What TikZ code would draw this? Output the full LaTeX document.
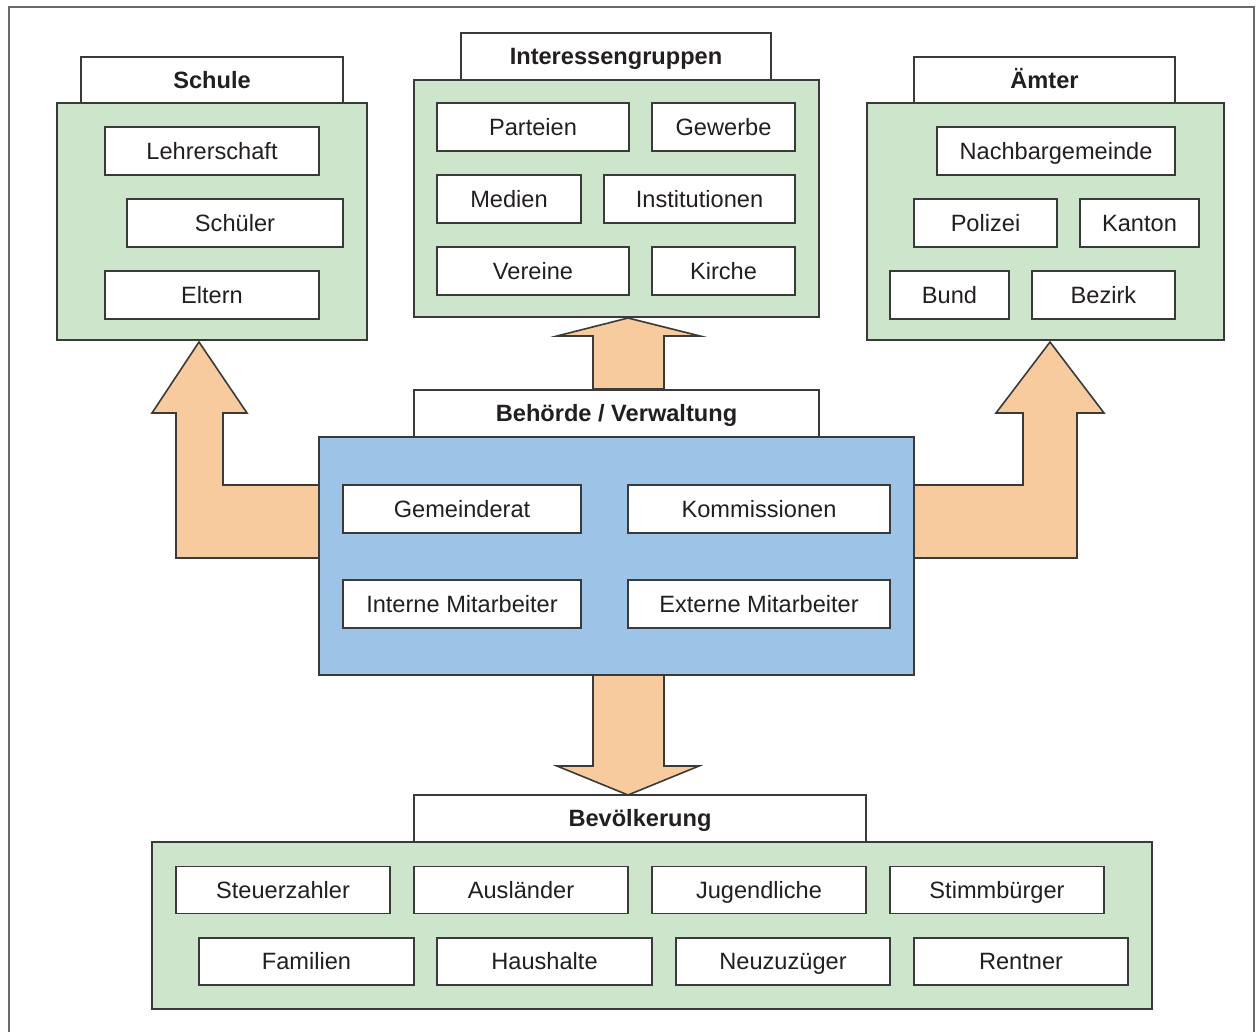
\documentclass[tikz,border=0pt]{standalone}
\usepackage{fontspec}
\setmainfont{Liberation Sans}
\usetikzlibrary{positioning}
\definecolor{ink}{HTML}{231F20}
\definecolor{edge}{HTML}{3A3A3A}
\definecolor{frameGray}{HTML}{6A6A6A}
\definecolor{pGreen}{HTML}{CDE5CB}
\definecolor{pBlue}{HTML}{9DC3E6}
\definecolor{pPeach}{HTML}{F7CB9E}
\tikzset{
  item/.style={draw=edge, fill=white, line width=0.8pt, minimum height=24pt, inner sep=0pt, text height=9.6pt, text depth=1.4pt, font=\fontsize{11.8}{14}\selectfont, text=ink},
  head/.style={item, minimum height=23.5pt, font=\fontsize{11.8}{14}\selectfont\bfseries},
  panel/.style={draw=edge, fill=pGreen, line width=0.8pt, inner sep=0pt},
  bigarrow/.style={draw=edge, fill=pPeach, line width=0.8pt, line join=miter},
  boxw/.style={minimum width=#1*0.5pt},
  boxh/.style={minimum height=#1*0.5pt},
}

\begin{document}
\begin{tikzpicture}[x=0.5pt, y=-0.5pt]
\useasboundingbox (0,0) rectangle (1256,1032);
\fill[white] (0,0) rectangle (1256,1032);
\draw[frameGray, line width=0.8pt] (9,1032) -- (9,7) -- (1254,7) -- (1254,1032);
% arrows out of the Behoerde
\draw[bigarrow] (593,389) -- (593,336) -- (557,336) -- (628,318) -- (700,336) -- (664,336) -- (664,389) -- cycle;
\draw[bigarrow] (593,675) -- (593,766) -- (557,766) -- (628,795) -- (699,766) -- (664,766) -- (664,675) -- cycle;
\draw[bigarrow] (319,558) -- (176,558) -- (176,413) -- (152,413) -- (199,342) -- (247,413) -- (223,413) -- (223,485) -- (319,485) -- cycle;
\draw[bigarrow] (914,558) -- (1077,558) -- (1077,413) -- (1104,413) -- (1050,342) -- (996,413) -- (1023,413) -- (1023,485) -- (914,485) -- cycle;
% Schule
\node[head, boxw=262, boxh=46] (schHead) at (212,80) {Schule};
\node[panel, boxw=310, boxh=237] (schPanel) at (212,221.5) {};
\foreach \n/\x/\y/\w/\t in {leh/212/151/214/Lehrerschaft, sus/235/223/216/Schüler, elt/212/295/214/Eltern}
  \node[item, boxw=\w] (\n) at (\x,\y) {\t};
% Interessengruppen
\node[head, boxw=310, boxh=47] (igHead) at (616,56.5) {Interessengruppen};
\node[panel, boxw=405, boxh=237] (igPanel) at (616.5,198.5) {};
\foreach \n/\x/\y/\w/\t in {par/533/127/192/Parteien, gew/723.5/127/143/Gewerbe, med/509/199/144/Medien,
    ins/699.5/199/191/Institutionen, ver/533/271/192/Vereine, kir/723.5/271/143/Kirche}
  \node[item, boxw=\w] (\n) at (\x,\y) {\t};
% Aemter
\node[head, boxw=261, boxh=46] (amtHead) at (1044.5,80) {Ämter};
\node[panel, boxw=357, boxh=237] (amtPanel) at (1045.5,221.5) {};
\foreach \n/\x/\y/\w/\t in {nac/1056/151/238/Nachbargemeinde, pol/985.5/223/143/Polizei, kan/1139.5/223/119/Kanton,
    bun/949.5/295/119/Bund, bez/1103.5/295/143/Bezirk}
  \node[item, boxw=\w] (\n) at (\x,\y) {\t};
% Behoerde / Verwaltung
\node[head, boxw=405, boxh=47] (behHead) at (616.5,413.5) {Behörde / Verwaltung};
\node[panel, fill=pBlue, boxw=595, boxh=238] (behPanel) at (616.5,556) {};
\foreach \n/\x/\y/\w/\t in {gem/462/509/238/Gemeinderat, kom/759/509/262/Kommissionen,
    int/462/604/238/Interne Mitarbeiter, ext/759/604/262/Externe Mitarbeiter}
  \node[item, boxw=\w] (\n) at (\x,\y) {\t};
% Bevoelkerung
\node[head, boxw=452, boxh=47] (bevHead) at (640,818.5) {Bevölkerung};
\node[panel, boxw=1000, boxh=167] (bevPanel) at (652,925.5) {};
\foreach \n/\x/\y/\w/\t in {ste/283/890/214/Steuerzahler, aus/521/890/214/Ausländer, jug/759/890/214/Jugendliche,
    sti/997/890/214/Stimmbürger, fam/306.5/961.5/215/Familien, hau/544.5/961.5/215/Haushalte,
    neu/783/961.5/214/Neuzuzüger, ren/1021/961.5/214/Rentner}
  \node[item, boxw=\w, boxh=47] (\n) at (\x,\y) {\t};
\end{tikzpicture}
\end{document}
